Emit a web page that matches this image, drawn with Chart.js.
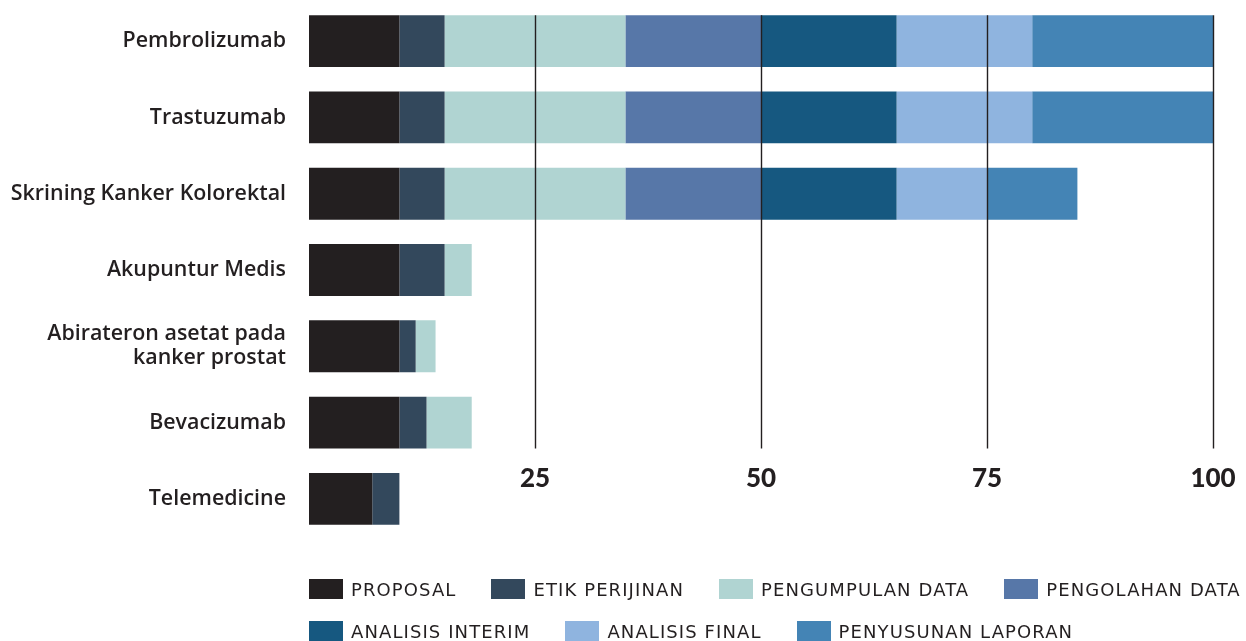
<!DOCTYPE html>
<html>
<head>
<meta charset="utf-8">
<script src="https://cdn.jsdelivr.net/npm/chart.js@4.4.1/dist/chart.umd.min.js"></script>
<style>
  html, body { margin: 0; padding: 0; background: #ffffff; overflow: hidden; }
  #wrap { position: relative; width: 1246px; height: 641px; overflow: hidden; }
  #wrap canvas { position: absolute; left: 0; top: 0; }
  #legend { position: absolute; left: 309px; top: 579px; width: 1000px;
            font-family: "DejaVu Sans", "Open Sans", sans-serif; font-size: 18px; letter-spacing: 1.1px; color: #231f20; }
  .row { display: flex; column-gap: 35px; height: 20px; margin-bottom: 22px; }
  .item { display: flex; align-items: center; height: 20px; white-space: nowrap; }
  .box { width: 34px; height: 20px; margin-right: 8px; }
</style>
</head>
<body>
<div id="wrap">
  <canvas id="c" width="1246" height="641"></canvas>
  <div id="legend"></div>
</div>
<script>
const categories = ['Pembrolizumab', 'Trastuzumab', 'Skrining Kanker Kolorektal', 'Akupuntur Medis',
                    ['Abirateron asetat pada', 'kanker prostat'], 'Bevacizumab', 'Telemedicine'];
const seriesNames = ['PROPOSAL', 'ETIK PERIJINAN', 'PENGUMPULAN DATA', 'PENGOLAHAN DATA',
                     'ANALISIS INTERIM', 'ANALISIS FINAL', 'PENYUSUNAN LAPORAN'];
const proposal    = [10, 10, 10, 10, 10, 10, 7];
const etik        = [5, 5, 5, 5, 1.8, 3, 3];
const pengumpulan = [20, 20, 20, 3, 2.2, 5, 0];
const pengolahan  = [15, 15, 15, 0, 0, 0, 0];
const interim     = [15, 15, 15, 0, 0, 0, 0];
const finalData   = [15, 15, 10, 0, 0, 0, 0];
const penyusunan  = [20, 20, 10, 0, 0, 0, 0];
const tickValues  = [25, 50, 75, 100];
const colors = ['#231f20', '#33485c', '#b0d4d2', '#5777a8', '#165880', '#8fb4df', '#4484b5'];

const seriesValues = [proposal, etik, pengumpulan, pengolahan, interim, finalData, penyusunan];
const datasets = seriesNames.map((name, i) => ({
  label: name,
  data: seriesValues[i],
  backgroundColor: colors[i],
  borderWidth: 0,
  categoryPercentage: 1,
  barPercentage: 0.68
}));

const gridPlugin = {
  id: 'gridPlugin',
  afterDatasetsDraw(chart) {
    const ctx = chart.ctx;
    const xs = chart.scales.x;
    const meta = chart.getDatasetMeta(0);
    const first = meta.data[0];
    const lastGrid = meta.data[5];
    const top = first.y - first.height / 2;
    const bottom = lastGrid.y + lastGrid.height / 2;
    ctx.save();
    ctx.strokeStyle = '#231f20';
    ctx.lineWidth = 1.4;
    tickValues.forEach(v => {
      const x = Math.round(xs.getPixelForValue(v)) + 0.5;
      ctx.beginPath();
      ctx.moveTo(x, top);
      ctx.lineTo(x, bottom);
      ctx.stroke();
    });
    ctx.fillStyle = '#231f20';
    ctx.font = '900 26px Lato, "DejaVu Sans", sans-serif';
    ctx.textAlign = 'center';
    ctx.textBaseline = 'middle';
    tickValues.forEach(v => {
      ctx.fillText(String(v), xs.getPixelForValue(v), bottom + 30);
    });
    ctx.restore();
  }
};

const chart = new Chart(document.getElementById('c'), {
  type: 'bar',
  data: { labels: categories, datasets },
  options: {
    indexAxis: 'y',
    responsive: false,
    animation: false,
    layout: { padding: { left: 0, right: 33, top: 3, bottom: 104 } },
    plugins: { legend: { display: false }, tooltip: { enabled: false } },
    scales: {
      x: { stacked: true, min: 0, max: 100, display: false },
      y: {
        stacked: true,
        grid: { display: false, drawTicks: false },
        border: { display: false },
        afterFit(scale) { scale.width = 309; scale.paddingTop = 0; scale.paddingBottom = 0; },
        ticks: {
          padding: 23,
          color: '#231f20',
          font: { family: '"Open Sans", "DejaVu Sans", sans-serif', size: 21.4, weight: 600, lineHeight: 1.12 }
        }
      }
    }
  },
  plugins: [gridPlugin]
});

const legendEl = document.getElementById('legend');
const rowSplits = [[0, 4], [4, 7]];
rowSplits.forEach(([a, b]) => {
  const row = document.createElement('div');
  row.className = 'row';
  for (let i = a; i < b; i++) {
    const item = document.createElement('div');
    item.className = 'item';
    const box = document.createElement('span');
    box.className = 'box';
    box.style.background = colors[i];
    const txt = document.createElement('span');
    txt.textContent = seriesNames[i];
    item.appendChild(box);
    item.appendChild(txt);
    row.appendChild(item);
  }
  legendEl.appendChild(row);
});
</script>
</body>
</html>
